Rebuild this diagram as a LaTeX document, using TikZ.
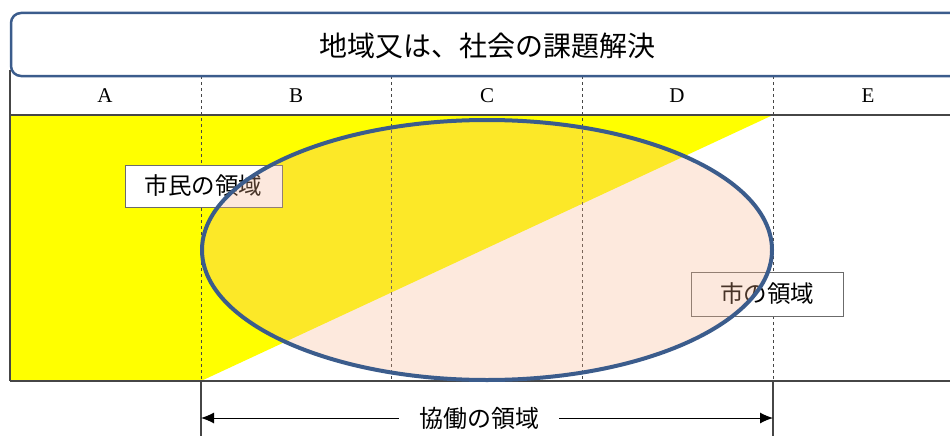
\documentclass[tikz,border=0pt]{standalone}
\usepackage{fontspec}
\setmainfont{Liberation Serif}
\newfontfamily\jp{Noto Sans CJK JP}
\usetikzlibrary{arrows.meta,shapes.geometric}
\definecolor{frameblue}{RGB}{59,92,140}
\definecolor{peach}{RGB}{248,179,138}
\definecolor{rule}{RGB}{70,70,70}
\definecolor{citizenyellow}{RGB}{255,255,0}
\begin{document}
\begin{tikzpicture}[x=1pt,y=-1pt,
  tabline/.style={draw=rule,line width=1.1pt},
  coldiv/.style={draw=rule,line width=1pt,dash pattern=on 3pt off 3pt},
  colhead/.style={font=\fontsize{21}{23}\selectfont,inner sep=0pt},
  lbl/.style={draw=rule!80,line width=1pt,fill=white,font=\jp\fontsize{23.5}{26}\selectfont,inner sep=0pt},
  arr/.style={draw=black,line width=1pt,-{Latex[length=13pt,width=11pt]}}]
\useasboundingbox (0,0) rectangle (950,436);
% yellow citizen region
\fill[citizenyellow] (10,115) rectangle (201,381);
\fill[citizenyellow] (201,115) -- (773,115) -- (201,381) -- cycle;
% column dividers
\foreach \x in {201,391,582,773} \draw[coldiv] (\x,70) -- (\x,381);
\foreach \x in {201,773} \draw[tabline] (\x,381) -- (\x,436);
% table rules
\draw[tabline] (10,70) -- (10,381);
\draw[tabline] (10,115) -- (950,115);
\draw[tabline] (10,381) -- (950,381);
% column headers
\node[colhead] (hA) at (105,96) {A};
\node[colhead] (hB) at (296,96) {B};
\node[colhead] (hC) at (487,96) {C};
\node[colhead] (hD) at (677,96) {D};
\node[colhead] (hE) at (868,96) {E};
% labels
\node[lbl,minimum width=157pt,minimum height=42pt] (citizen) at (203.5,186) {市民の領域};
\node[lbl,minimum width=152pt,minimum height=44pt] (city) at (767,294) {市の領域};
% collaboration ellipse
\draw[frameblue,line width=4pt,fill=peach,fill opacity=0.29] (487,250) ellipse [x radius=285, y radius=130];
% title box
\draw[frameblue,line width=2.5pt,rounded corners=10pt,fill=white] (11,13) rectangle (970,76);
\node[font=\jp\fontsize{28}{32}\selectfont,inner sep=0pt] (title) at (487,46) {地域又は、社会の課題解決};
% bottom arrow
\coordinate (aL) at (201,418);
\coordinate (aR) at (773,418);
\node[font=\jp\fontsize{24}{26}\selectfont,inner xsep=20pt,inner ysep=0pt] (collab) at (479,418) {協働の領域};
\draw[arr] (collab.west) -- (aL);
\draw[arr] (collab.east) -- (aR);
\end{tikzpicture}
\end{document}
